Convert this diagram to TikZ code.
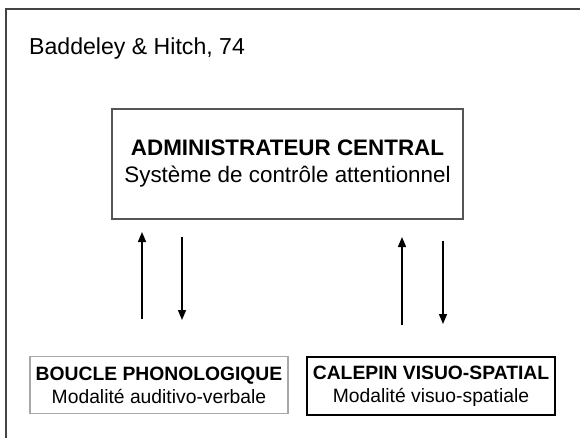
\documentclass[tikz,border=0pt]{standalone}
\usepackage{fontspec}
\setmainfont{Liberation Sans}
\usetikzlibrary{arrows.meta}
\definecolor{framegray}{HTML}{444444}
\definecolor{boxgray}{HTML}{555555}
\definecolor{lightbox}{HTML}{A8A8A8}
\tikzset{
  bigbox/.style={draw=boxgray, line width=1.2pt, minimum width=351pt, minimum height=110pt,
    align=center, inner sep=0pt, font=\fontsize{22.4}{27}\selectfont},
  smallbox/.style={line width=1.1pt, minimum height=57pt, align=center, inner sep=0pt,
    font=\fontsize{19.3}{23}\selectfont},
  flow/.style={line width=1.4pt, -{Triangle[length=10pt,width=8pt]}}
}
\begin{document}
\begin{tikzpicture}[x=1pt,y=-1pt]
  \useasboundingbox (0,0) rectangle (580,438);
  % open outer frame (top and left edges only)
  \draw[framegray, line width=1.5pt] (580,9) -- (6,9) -- (6,438);
  % title
  \node[anchor=base west, inner sep=0pt, font=\fontsize{23.1}{27}\selectfont] (title) at (29,55) {Baddeley \& Hitch, 74};
  % components
  \node[bigbox] (ac) at (287.5,164) {\textbf{ADMINISTRATEUR CENTRAL}\\Système de contrôle attentionnel};
  \node[smallbox, draw=lightbox, minimum width=258pt] (bp) at (159,385) {\textbf{BOUCLE PHONOLOGIQUE}\\Modalité auditivo-verbale};
  \node[smallbox, draw=black, minimum width=248pt, minimum height=58pt] (cv) at (431,386) {\textbf{CALEPIN VISUO-SPATIAL}\\Modalité visuo-spatiale};
  % arrow end points
  \coordinate (bpUpA) at (142,319);
  \coordinate (bpUpB) at (142,232);
  \coordinate (bpDnA) at (182,237);
  \coordinate (bpDnB) at (182,320);
  \coordinate (cvUpA) at (402,325);
  \coordinate (cvUpB) at (402,237);
  \coordinate (cvDnA) at (443,241);
  \coordinate (cvDnB) at (443,324);
  \draw[flow] (bpUpA) -- (bpUpB);
  \draw[flow] (bpDnA) -- (bpDnB);
  \draw[flow] (cvUpA) -- (cvUpB);
  \draw[flow] (cvDnA) -- (cvDnB);
\end{tikzpicture}
\end{document}
